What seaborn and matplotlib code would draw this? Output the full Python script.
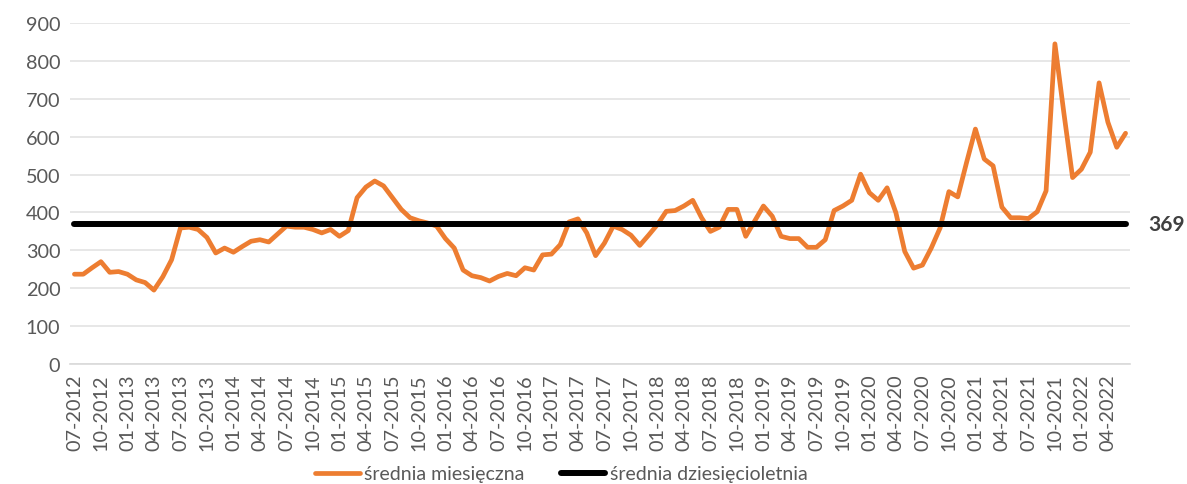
import pandas as pd
import matplotlib
matplotlib.use("Agg")
import matplotlib.pyplot as plt
import seaborn as sns

# monthly values, 07-2012 .. 06-2022
months = pd.period_range("2012-07", "2022-06", freq="M").strftime("%m-%Y").tolist()
monthly_avg = [
    237, 237, 254, 270, 242, 244, 237, 222, 215, 195, 230, 275,
    359, 361, 355, 334, 293, 306, 295, 310, 324, 328, 322, 343,
    364, 361, 361, 355, 346, 355, 337, 352, 439, 467, 483, 470,
    439, 408, 386, 378, 372, 364, 331, 306, 248, 233, 228, 219,
    231, 239, 233, 254, 248, 288, 290, 315, 375, 383, 346, 286,
    319, 364, 355, 340, 313, 340, 368, 403, 405, 417, 432, 386,
    350, 361, 408, 408, 337, 377, 417, 390, 337, 331, 331, 308,
    308, 328, 405, 417, 432, 501, 452, 432, 465, 399, 297, 253,
    261, 306, 359, 455, 441, 532, 620, 541, 523, 414, 386, 386,
    384, 402, 457, 845, 665, 492, 514, 559, 742, 638, 572, 609,
]
decade_avg = 369

df = pd.DataFrame({
    "idx": range(len(months)),
    "month": months,
    "monthly": monthly_avg,
    "decade": [decade_avg] * len(months),
})

sns.set_theme(style="white")
plt.rcParams["font.family"] = ["Lato", "DejaVu Sans"]

fig = plt.figure(figsize=(11.87, 4.85), dpi=100)
ax = fig.add_axes([70 / 1187, 120 / 485, 1060 / 1187, 341 / 485])

sns.lineplot(data=df, x="idx", y="monthly", ax=ax, color="#ED7D31", linewidth=3.4,
             label="średnia miesięczna", zorder=3)
sns.lineplot(data=df, x="idx", y="decade", ax=ax, color="black", linewidth=4.3,
             label="średnia dziesięcioletnia", zorder=4, solid_capstyle="round")

ax.set_xlim(-0.5, len(months) - 0.5)
ax.set_ylim(0, 900)
ax.set_yticks(range(0, 901, 100))
ax.set_xticks(df["idx"][::3])
ax.set_xticklabels(df["month"][::3], rotation=90)
ax.tick_params(axis="both", length=0, labelsize=14.3, colors="#595959", pad=7)
ax.yaxis.grid(True, color="#e3e3e3", linewidth=1.2)
ax.set_axisbelow(True)
for s in ["top", "right", "left"]:
    ax.spines[s].set_visible(False)
ax.spines["bottom"].set_color("#d9d9d9")
ax.spines["bottom"].set_linewidth(1.2)
ax.set_xlabel("")
ax.set_ylabel("")

ax.text(len(months) + 1.6, decade_avg, str(decade_avg), fontsize=15, fontweight="bold",
        color="#404040", va="center", ha="left")

ax.legend_.remove()
handles, labels = ax.get_legend_handles_labels()
fig.legend(handles, labels, loc="center", bbox_to_anchor=(0.473, 0.021), ncol=2,
           frameon=False, fontsize=14, handlelength=2.3, handletextpad=0.25,
           columnspacing=1.85, labelcolor="#595959")

fig.savefig("out.png", dpi=100)
